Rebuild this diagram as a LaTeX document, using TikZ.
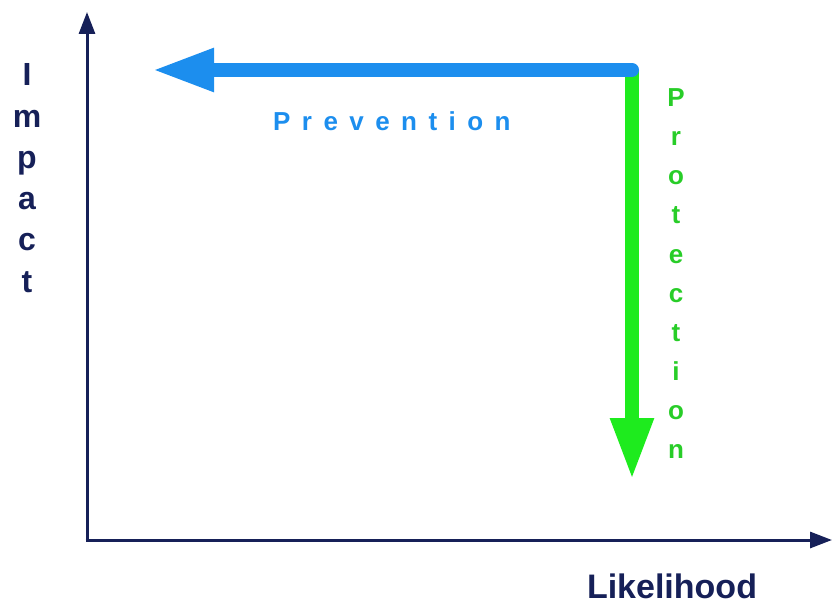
\documentclass[tikz,border=0pt]{standalone}
\usepackage{fontspec}
\setmainfont{Liberation Sans}
\usetikzlibrary{arrows.meta}
\definecolor{axisnavy}{RGB}{22,32,88}
\definecolor{prevblue}{RGB}{28,142,238}
\definecolor{protgreen}{RGB}{30,235,30}
\definecolor{prottext}{RGB}{40,205,40}
\tikzset{axis line/.style={line width=3pt,draw=axisnavy,-{Triangle[length=22pt,width=16pt]}},
fat arrow/.style={line width=14pt,draw=#1,-{Triangle[length=62pt,width=40pt]}},
axis label/.style={font=\fontsize{34}{34}\selectfont\bfseries,text=axisnavy,anchor=base,inner sep=0pt},
prot letter/.style={font=\fontsize{26}{26}\selectfont\bfseries,text=prottext,anchor=base,inner sep=0pt}}

\begin{document}
\begin{tikzpicture}[x=1pt,y=-1pt]
\useasboundingbox (0,0) rectangle (834,612);
% axes
\coordinate (origin) at (87,540);
\coordinate (ytop) at (87,12);
\coordinate (xend) at (832,540);
\draw[axis line] ([yshift=-1.5pt]origin) -- (ytop);
\draw[axis line] ([xshift=-1.5pt]origin) -- (xend);
\foreach \ch [count=\i from 0] in {I,m,p,a,c,t}
  \node[axis label,font=\fontsize{32}{32}\selectfont\bfseries] (imp\i) at (27,86+41.2*\i) {\ch};
\node[axis label] (likely) at (672,598) {Likelihood};
% the two strategies
\coordinate (corner) at (632,70);
\coordinate (prevtip) at (152,70);
\coordinate (prottip) at (632,480);
\draw[fat arrow=protgreen] (corner) -- (prottip);
\draw[fat arrow=prevblue,line cap=round] (corner) -- (prevtip);
\node[font=\fontsize{26}{26}\selectfont\bfseries\addfontfeature{LetterSpace=44},text=prevblue,anchor=base west,inner sep=0pt] (prev) at (273,131) {Prevention};
\foreach \ch [count=\i from 0] in {P,r,o,t,e,c,t,i,o,n}
  \node[prot letter] (prot\i) at (676,107+39*\i) {\ch};
\end{tikzpicture}
\end{document}
